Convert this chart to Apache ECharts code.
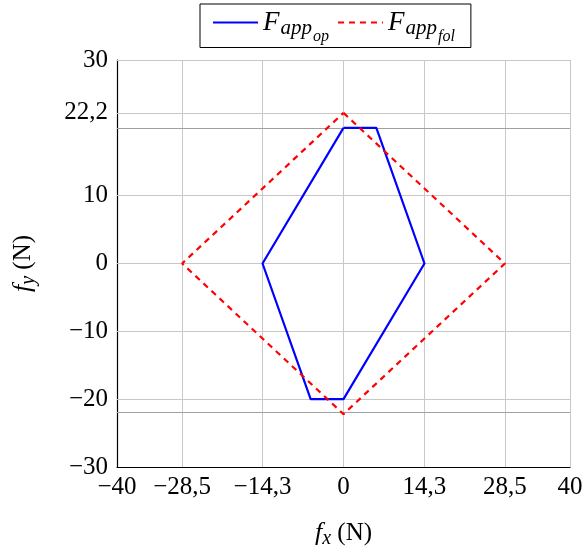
<!DOCTYPE html>
<html><head><meta charset="utf-8">
<script src="https://cdn.jsdelivr.net/npm/echarts@6/dist/echarts.min.js"></script>
<style>html,body{margin:0;padding:0;background:#fff}#c{width:585px;height:546px}</style>
</head><body><div id="c"></div>
<script>
const xTicks = [-40, -28.5, -14.3, 0, 14.3, 28.5, 40];
const yTicks = [-30, -20, -10, 0, 10, 22.2, 30];
const extraLinesY = [20, -22];
const opX = [0, 5.8, 14.3, 0, -5.8, -14.3, 0];
const opY = [20, 20, 0, -20, -20, 0, 20];
const folX = [0, 28.5, 0, -28.5, 0];
const folY = [22.2, 0, -22.2, 0, 22.2];

const FONT = '"Liberation Serif", "DejaVu Serif", serif';
function fmt(v){ let s = String(Math.abs(v)).replace('.', ','); return (v < 0 ? '\u2212' : '') + s; }
function zip(a,b){ return a.map((v,i)=>[v,b[i]]); }

const rich = {
  F: {fontFamily: FONT, fontStyle:'italic', fontSize: 26, color:'#000'},
  s1: {fontFamily: FONT, fontStyle:'italic', fontSize: 20, color:'#000', padding:[12,0,0,0]},
  s2: {fontFamily: FONT, fontStyle:'italic', fontSize: 15, color:'#000', padding:[26,0,0,0]},
  r: {fontFamily: FONT, fontSize: 25, color:'#000'}
};
const richL = {
  F: {fontFamily: FONT, fontStyle:'italic', fontSize: 27, color:'#000', padding:[0,1,0,0]},
  s1: {fontFamily: FONT, fontStyle:'italic', fontSize: 21, color:'#000', padding:[12,0,0,0]},
  s2: {fontFamily: FONT, fontStyle:'italic', fontSize: 16, color:'#000', padding:[28,0,0,1]}
};

const chart = echarts.init(document.getElementById('c'));
const gridMarks = [];
xTicks.filter(v => v !== -40).forEach(v => gridMarks.push({xAxis: v}));
yTicks.filter(v => v !== -30).forEach(v => gridMarks.push({yAxis: v}));
const extraMarks = extraLinesY.map(v => ({yAxis: v}));

chart.setOption({
  animation: false,
  legend: {
    left: 200, top: 4,
    padding: [5, 16, 3, 12],
    borderColor: '#000', borderWidth: 1, borderRadius: 0,
    itemWidth: 45, itemHeight: 10, itemGap: 8,
    itemStyle: {opacity: 0},
    data: ['op', 'fol'],
    formatter: function(n){ return n === 'op' ? '{F|F}{s1|app}{s2|op}' : '{F|F}{s1|app}{s2|fol}'; },
    textStyle: {rich: richL, fontSize: 27}
  },
  grid: {left: 117, right: 15, top: 60, bottom: 79, containLabel: false, outerBoundsMode: 'none'},
  xAxis: {
    type: 'value', min: -40, max: 40,
    name: '{F|f}{s1|x}{r| (N)}', nameLocation: 'middle', nameGap: 50,
    nameTextStyle: {rich: rich},
    axisLine: {show: true, onZero: false, lineStyle: {color: '#000', width: 1.2}},
    axisTick: {show: false, customValues: xTicks},
    axisLabel: {customValues: xTicks, formatter: fmt, fontFamily: FONT, fontSize: 25, color: '#000', margin: 8},
    splitLine: {show: false}
  },
  yAxis: {
    type: 'value', min: -30, max: 30,
    name: '{F|f}{s1|y}{r| (N)}', nameLocation: 'middle', nameGap: 78, nameRotate: 90,
    nameTextStyle: {rich: rich},
    axisLine: {show: true, onZero: false, lineStyle: {color: '#000', width: 1.2}},
    axisTick: {show: true, inside: true, length: 11, customValues: yTicks.filter(v => v !== -30), lineStyle: {color: '#444'}},
    axisLabel: {customValues: yTicks, formatter: fmt, fontFamily: FONT, fontSize: 25, color: '#000', margin: 9},
    splitLine: {show: false}
  },
  series: [
    {
      name: 'grid', type: 'line', data: [], silent: true, z: 1,
      markLine: {silent: true, symbol: 'none', label: {show: false},
        lineStyle: {color: '#c8c8c8', width: 1, type: 'solid'}, data: gridMarks}
    },
    {
      name: 'extra', type: 'line', data: [], silent: true, z: 1,
      markLine: {silent: true, symbol: 'none', label: {show: false},
        lineStyle: {color: '#a0a0a0', width: 1.2, type: 'solid'}, data: extraMarks}
    },
    {
      name: 'op', type: 'line', data: zip(opX, opY), showSymbol: false, symbol: 'none',
      lineStyle: {color: '#0000ff', width: 2.2}, itemStyle: {color: '#0000ff'}, z: 5
    },
    {
      name: 'fol', type: 'line', data: zip(folX, folY), showSymbol: false, symbol: 'none',
      lineStyle: {color: '#ff0000', width: 2.2, type: [6, 5]}, itemStyle: {color: '#ff0000'}, z: 6
    }
  ]
});
</script></body></html>
